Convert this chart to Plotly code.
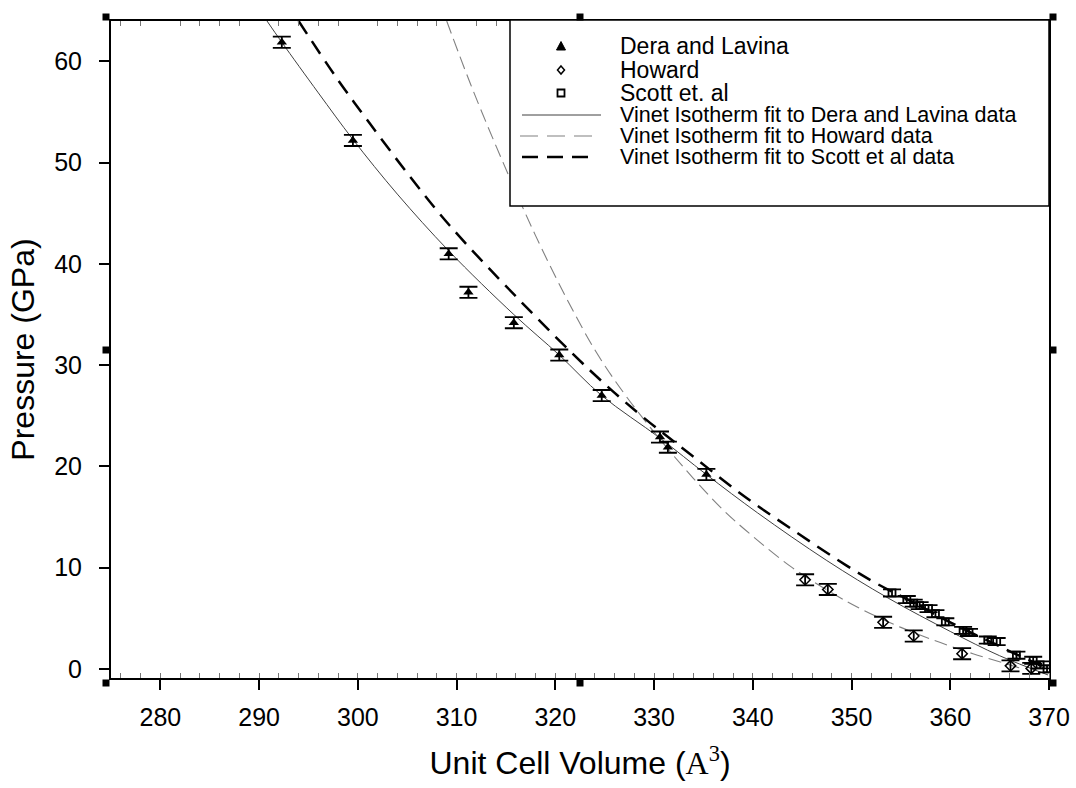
import plotly.graph_objects as go

# ---------------- data ----------------
dera_v = [292.3, 299.5, 309.2, 311.2, 315.8, 320.4, 324.7, 330.6, 331.4, 335.3]
dera_p = [61.9, 52.2, 41.0, 37.2, 34.2, 31.0, 27.0, 22.9, 21.9, 19.2]
dera_err = [0.55, 0.55, 0.55, 0.55, 0.55, 0.55, 0.55, 0.55, 0.55, 0.55]

howard_v = [345.3, 347.6, 353.2, 356.3, 361.2, 366.1, 368.2]
howard_p = [8.8, 7.85, 4.6, 3.25, 1.5, 0.3, 0.05]
howard_err = [0.55, 0.55, 0.55, 0.55, 0.55, 0.55, 0.55]

scott_v = [354.1, 355.6, 356.3, 356.9, 357.8, 358.5, 359.5, 361.3, 361.9,
           363.8, 364.7, 366.7, 368.4, 369.1, 369.8]
scott_p = [7.5, 6.85, 6.5, 6.25, 5.95, 5.45, 4.65, 3.8, 3.6,
           2.85, 2.7, 1.35, 0.85, 0.4, 0.0]
scott_err = [0.35] * 15

# Vinet isotherm fit curves
dera_fit_v = [290.8, 292.3, 296.0, 299.5, 304.0, 309.2, 315.8, 320.4, 324.7,
              330.6, 335.3, 340.5, 347.5, 353.7, 360.0, 365.0, 369.9]
dera_fit_p = [64.0, 61.9, 56.9, 52.3, 46.9, 41.3, 35.0, 31.0, 27.0,
              22.8, 19.2, 15.4, 10.7, 7.0, 3.7, 1.3, -0.6]

howard_fit_v = [309.0, 311.4, 314.5, 318.0, 321.3, 324.2, 327.2, 331.0, 334.0,
                337.0, 340.0, 344.0, 348.2, 351.0, 355.0, 359.0, 362.3, 365.7, 367.0]
howard_fit_p = [64.0, 57.8, 50.5, 42.8, 36.3, 31.2, 26.9, 22.2, 18.8,
                15.7, 13.1, 10.0, 7.4, 5.9, 4.1, 2.6, 1.5, 0.5, 0.1]

scott_fit_v = [294.0, 297.9, 301.2, 305.3, 309.3, 316.4, 323.5, 328.6, 333.8,
               339.2, 344.4, 349.5, 352.6, 356.0, 360.0, 364.0, 367.0, 370.0]
scott_fit_p = [64.0, 58.3, 53.9, 48.6, 43.8, 36.4, 29.5, 25.1, 21.1,
               17.0, 13.5, 10.2, 8.4, 6.7, 4.6, 2.7, 1.3, 0.0]

x_ticks = [280, 290, 300, 310, 320, 330, 340, 350, 360, 370]
y_ticks = [0, 10, 20, 30, 40, 50, 60]

legend_labels = ["Dera and Lavina", "Howard", "Scott et. al",
                 "Vinet Isotherm fit to Dera and Lavina data",
                 "Vinet Isotherm fit to Howard data",
                 "Vinet Isotherm fit to Scott et al data"]

# ---------------- layout geometry ----------------
W, H = 1076, 788
L, R, T, B = 111, 1049, 21, 678


def fx(p):
    return (p - L) / (R - L)


def fy(p):
    return (B - p) / (B - T)


fig = go.Figure()

fig.add_trace(go.Scatter(x=dera_fit_v, y=dera_fit_p, mode="lines",
                         line=dict(color="#404040", width=1, shape="spline", smoothing=1.0),
                         hoverinfo="skip"))
fig.add_trace(go.Scatter(x=howard_fit_v, y=howard_fit_p, mode="lines",
                         line=dict(color="#808080", width=1.1, shape="spline", smoothing=1.0,
                                   dash="13px,6px"),
                         hoverinfo="skip"))
fig.add_trace(go.Scatter(x=scott_fit_v, y=scott_fit_p, mode="lines",
                         line=dict(color="black", width=2.5, shape="spline", smoothing=1.0,
                                   dash="15px,9px"),
                         hoverinfo="skip"))

eb = dict(type="data", color="black", thickness=1.8, width=9)
fig.add_trace(go.Scatter(x=dera_v, y=dera_p, mode="markers",
                         marker=dict(symbol="triangle-up", size=9, color="black"),
                         error_y=dict(array=dera_err, **eb)))
fig.add_trace(go.Scatter(x=howard_v, y=howard_p, mode="markers",
                         marker=dict(symbol="diamond-open", size=8, color="black",
                                     line=dict(width=1.5)),
                         error_y=dict(array=howard_err, **eb)))
fig.add_trace(go.Scatter(x=scott_v, y=scott_p, mode="markers",
                         marker=dict(symbol="square-open", size=7, color="black",
                                     line=dict(width=1.8)),
                         error_y=dict(array=scott_err, **eb)))
fig.add_trace(go.Scatter(x=[], y=[], xaxis="x2", hoverinfo="skip"))

shapes = []
annotations = []

# legend box
shapes.append(dict(type="rect", xref="paper", yref="paper",
                   x0=fx(510), x1=fx(1049), y0=fy(206), y1=fy(20),
                   fillcolor="white", line=dict(color="black", width=1.5), layer="above"))

rows = [46, 70, 93, 115, 136, 157]
mx = 561
cy = rows[0]
shapes.append(dict(type="path", xref="paper", yref="paper", layer="above",
                   path=f"M {fx(mx-4.5)},{fy(cy+4)} L {fx(mx+4.5)},{fy(cy+4)} L {fx(mx)},{fy(cy-4.5)} Z",
                   fillcolor="black", line=dict(color="black", width=1)))
cy = rows[1]
shapes.append(dict(type="path", xref="paper", yref="paper", layer="above",
                   path=f"M {fx(mx)},{fy(cy-4)} L {fx(mx+3.5)},{fy(cy)} L {fx(mx)},{fy(cy+4)} L {fx(mx-3.5)},{fy(cy)} Z",
                   fillcolor="white", line=dict(color="black", width=1.5)))
cy = rows[2]
shapes.append(dict(type="rect", xref="paper", yref="paper", layer="above",
                   x0=fx(mx-3.5), x1=fx(mx+3.5), y0=fy(cy+3.5), y1=fy(cy-3.5),
                   fillcolor="white", line=dict(color="black", width=1.8)))
shapes.append(dict(type="line", xref="paper", yref="paper", layer="above",
                   x0=fx(522), x1=fx(601), y0=fy(rows[3]), y1=fy(rows[3]),
                   line=dict(color="#404040", width=1)))
shapes.append(dict(type="line", xref="paper", yref="paper", layer="above",
                   x0=fx(520), x1=fx(601), y0=fy(rows[4]), y1=fy(rows[4]),
                   line=dict(color="#808080", width=1.1, dash="18px,9px")))
shapes.append(dict(type="line", xref="paper", yref="paper", layer="above",
                   x0=fx(522), x1=fx(594), y0=fy(rows[5]), y1=fy(rows[5]),
                   line=dict(color="black", width=2.5, dash="16px,9px")))

for i, (lab, ry) in enumerate(zip(legend_labels, rows)):
    annotations.append(dict(text=lab, xref="paper", yref="paper", x=fx(619), y=fy(ry),
                            xanchor="left", yanchor="middle", showarrow=False,
                            borderpad=0,
                            font=dict(size=23 if i < 3 else 21.5, color="black")))

# selection handles (black squares)
for hx in (106, 580, 1053):
    for hy in (17, 350, 683):
        if hx == 580 and hy == 350:
            continue
        shapes.append(dict(type="rect", xref="paper", yref="paper", layer="above",
                           x0=fx(hx-3.5), x1=fx(hx+3.5), y0=fy(hy+3.5), y1=fy(hy-3.5),
                           fillcolor="black", line=dict(width=0)))

serif = "Liberation Serif, Times New Roman, serif"
fig.update_layout(
    width=W, height=H,
    margin=dict(l=L, r=W - R, t=T, b=H - B),
    paper_bgcolor="white", plot_bgcolor="white",
    font=dict(family="Liberation Sans, Arial, sans-serif", color="black"),
    showlegend=False,
    shapes=shapes, annotations=annotations,
    xaxis=dict(range=[275, 370], tickmode="array", tickvals=x_ticks,
               ticks="outside", ticklen=10, tickwidth=2, tickcolor="black",
               showline=True, linewidth=2, linecolor="black", mirror=True,
               showgrid=False, zeroline=False, automargin=False,
               tickfont=dict(size=25), ticklabelstandoff=6,
               minor=dict(tick0=0, dtick=2, ticks="inside", ticklen=5, tickwidth=1,
                          tickcolor="#777777", showgrid=False),
               title=dict(text=f'Unit Cell Volume (<span style="font-family:{serif}">A</span><sup><span style="font-family:{serif}">3</span></sup>)',
                          font=dict(size=32), standoff=22)),
    xaxis2=dict(range=[275, 370], overlaying="x", side="top", anchor="y",
                showticklabels=False, ticks="", showline=False, showgrid=False,
                zeroline=False, automargin=False,
                minor=dict(tick0=0, dtick=2, ticks="inside", ticklen=5, tickwidth=1,
                           tickcolor="#777777", showgrid=False)),
    yaxis=dict(range=[-0.9, 64], tickmode="array", tickvals=y_ticks,
               ticks="outside", ticklen=10, tickwidth=2, tickcolor="black",
               showline=True, linewidth=2, linecolor="black", mirror=True,
               showgrid=False, zeroline=False, automargin=False,
               tickfont=dict(size=25), ticklabelstandoff=12,
               title=dict(text="Pressure (GPa)", font=dict(size=32), standoff=10)),
)

fig.write_html("out.html")
